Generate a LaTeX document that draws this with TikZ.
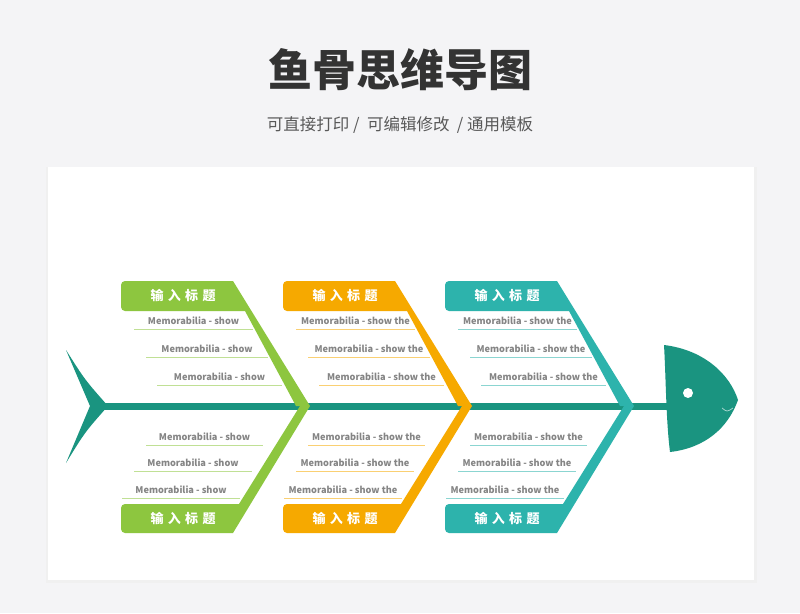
\documentclass[tikz,border=0pt]{standalone}
\usepackage{fontspec}
\setmainfont{Noto Sans CJK SC}
\usetikzlibrary{positioning,calc}
\definecolor{bggray}{HTML}{F4F4F6}
\definecolor{fgreen}{HTML}{8DC63F}
\definecolor{forange}{HTML}{F6A900}
\definecolor{fteal}{HTML}{2DB3AC}
\definecolor{spine}{HTML}{1A9480}
\definecolor{itemgray}{HTML}{858585}
\tikzset{
  item/.style={font=\fontsize{9.2}{10}\selectfont\bfseries, text=itemgray, inner sep=0pt},
  label/.style={font=\fontsize{13}{15}\selectfont\bfseries, text=white, inner sep=0pt},
}
\begin{document}
\begin{tikzpicture}[x=1pt,y=-1pt]
		\useasboundingbox (0,0) rectangle (800,613);
		\fill[bggray] (0,0) rectangle (800,613);
		\fill[black!6] (46,167) rectangle (757,583);
		\fill[white] (48,167) rectangle (754,580);
		
		\node[font=\fontsize{44}{48}\selectfont\bfseries, text=black!80] (title) at (400,70) {鱼骨思维导图};
		\node[font=\fontsize{16.5}{18}\selectfont, text=black!65] (sub) at (400,125) {可直接打印 /\ \ 可编辑修改\ \ / 通用模板};
		
		% spine, tail and head
		\fill[spine] (95,402.5) rectangle (668,409.5);
		\fill[spine] (66,350) .. controls (85,380) .. (108,406) .. controls (85,432) .. (66,463) -- (90,406) -- cycle;
		\fill[spine] (664,345) .. controls (705,350) and (730,375) .. (738,400) .. controls (728,428) and (705,448) .. (670,452) .. controls (666,420) and (666,380) .. cycle;
		\fill[white] (688,393) circle (5);
		\draw[white!60!spine, line width=0.8pt] (722,408) .. controls (727,412) .. (733,408);
		
		% bones
		\foreach \x/\c/\t in {121/fgreen/Memorabilia - show, 283/forange/Memorabilia - show the, 445/fteal/Memorabilia - show the}{
			\begin{scope}[xshift=\x pt]
				\fill[\c] (60,281) [rounded corners=4pt] -- (0,281) -- (0,311) [sharp corners] -- (124,311) -- (175,406) -- (189,406) -- (112,281) -- cycle;
				\fill[\c] (60,533) [rounded corners=4pt] -- (0,533) -- (0,504) [sharp corners] -- (118,504) -- (179,406) -- (189,406) -- (112,533) -- cycle;
				\node[label] (top\x) at (62,296) {输\,\,入\,\,标\,\,题};
				\node[label] (bot\x) at (62,519) {输\,\,入\,\,标\,\,题};
				\foreach \a/\b/\y in {13/132/321, 25/147/349, 36/161/377, 25/142/437, 13/131/463, 1/119/490}{
					\draw[\c!55, line width=0.7pt] (\a,\y+8) -- (\b,\y+8);
					\node[item] at ({(\a+\b)/2},\y) {\t};
				}
			\end{scope}
		}
\end{tikzpicture}
\end{document}
